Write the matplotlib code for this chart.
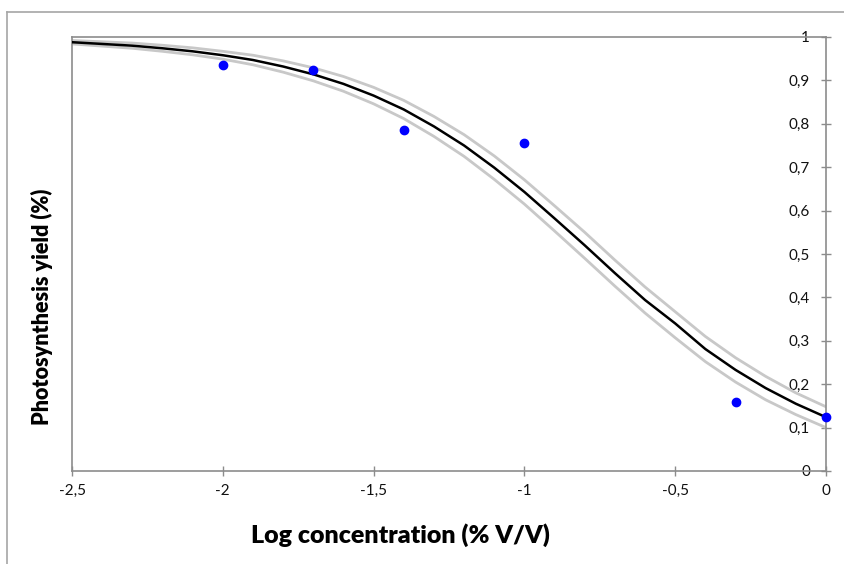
import matplotlib
matplotlib.use("Agg")
import matplotlib.pyplot as plt
from matplotlib.lines import Line2D
from matplotlib.ticker import FixedLocator, FuncFormatter

# measured points
log_conc = [-2.0, -1.7, -1.4, -1.0, -0.3, 0.0]
yield_obs = [0.936, 0.923, 0.786, 0.756, 0.158, 0.125]

# fitted curve and confidence band
curve_x = [-2.5, -2.4, -2.3, -2.2, -2.1, -2.0, -1.9, -1.8, -1.7, -1.6, -1.5, -1.4, -1.3,
           -1.2, -1.1, -1.0, -0.9, -0.8, -0.7, -0.6, -0.5, -0.4, -0.3, -0.2, -0.1, 0.0]
fit_y = [0.988, 0.984, 0.980, 0.974, 0.967, 0.958, 0.947, 0.932, 0.914, 0.892, 0.865, 0.833, 0.794,
         0.750, 0.699, 0.643, 0.582, 0.520, 0.456, 0.394, 0.340, 0.281, 0.233, 0.191, 0.155, 0.124]
upper_y = [0.992, 0.989, 0.986, 0.981, 0.975, 0.967, 0.958, 0.945, 0.929, 0.909, 0.884, 0.854, 0.817,
           0.775, 0.726, 0.671, 0.611, 0.550, 0.486, 0.424, 0.367, 0.310, 0.261, 0.218, 0.180, 0.148]
lower_y = [0.984, 0.979, 0.974, 0.967, 0.959, 0.949, 0.936, 0.919, 0.899, 0.875, 0.846, 0.812, 0.771,
           0.725, 0.672, 0.615, 0.553, 0.490, 0.426, 0.364, 0.307, 0.252, 0.205, 0.164, 0.130, 0.100]

x_ticks = [-2.5, -2.0, -1.5, -1.0, -0.5, 0.0]
y_ticks = [0, 0.1, 0.2, 0.3, 0.4, 0.5, 0.6, 0.7, 0.8, 0.9, 1.0]

plt.rcParams["font.family"] = ["Lato", "DejaVu Sans"]

fig = plt.figure(figsize=(8.45, 5.64), dpi=100)
ax = fig.add_axes([72 / 845, 93 / 564, 754 / 845, 434 / 564])

ax.plot(curve_x, upper_y, color="#c8c8c8", lw=2.0, zorder=2)
ax.plot(curve_x, lower_y, color="#c8c8c8", lw=2.0, zorder=2)
ax.plot(curve_x, fit_y, color="black", lw=1.8, zorder=3)
ax.plot(log_conc, yield_obs, "o", color="#0000ff", ms=6, zorder=4, clip_on=False)

ax.set_xlim(-2.5, 0)
ax.set_ylim(0, 1)

for side in ["left", "right", "top", "bottom"]:
    ax.spines[side].set_color("#8c8c8c")
    ax.spines[side].set_linewidth(1.2)


def comma(v, pos):
    s = f"{v:g}"
    return s.replace(".", ",")


ax.xaxis.set_major_locator(FixedLocator(x_ticks))
ax.yaxis.set_major_locator(FixedLocator(y_ticks))
ax.xaxis.set_major_formatter(FuncFormatter(comma))
ax.yaxis.set_major_formatter(FuncFormatter(comma))

ax.tick_params(axis="x", direction="inout", length=7, width=1, color="#8c8c8c",
               labelsize=11, labelcolor="#111111", pad=6)
ax.tick_params(axis="y", left=False, right=True, labelleft=False, labelright=True,
               direction="inout", length=7, width=1, color="#8c8c8c",
               labelsize=11, labelcolor="#111111", pad=-15)
for lbl in ax.get_yticklabels():
    lbl.set_horizontalalignment("right")

fig.text(42 / 845, 1 - 307 / 564, "Photosynthesis yield (%)", rotation=90,
         ha="center", va="center", fontsize=15.5, fontweight="heavy")
fig.text(400 / 845, 1 - 535 / 564, "Log concentration (% V/V)",
         ha="center", va="center", fontsize=18, fontweight="heavy")

# outer chart border (cropped at right and bottom)
fig.add_artist(Line2D([7 / 845, 7 / 845], [0, 1 - 12 / 564], color="#a6a6a6", lw=1.2))
fig.add_artist(Line2D([7 / 845, 1], [1 - 12 / 564, 1 - 12 / 564], color="#a6a6a6", lw=1.2))

fig.savefig("out.png", dpi=100)
plt.close(fig)
